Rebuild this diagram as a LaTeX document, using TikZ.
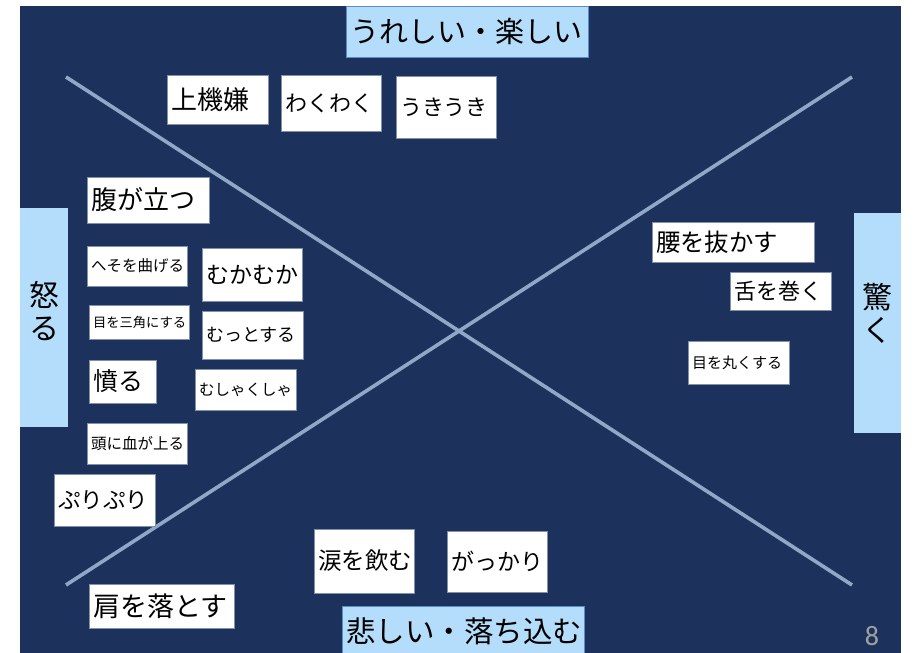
\documentclass[tikz,border=0pt]{standalone}
\usepackage{fontspec}
\setmainfont{Noto Sans CJK JP}
\newfontfamily\numfont{Carlito}
\definecolor{bgblue}{RGB}{28,50,92}
\definecolor{lightblue}{RGB}{180,221,251}
\definecolor{linecol}{RGB}{143,168,200}
\definecolor{boxedge}{RGB}{130,145,170}
\definecolor{bluedge}{RGB}{90,140,200}
\definecolor{numgrey}{RGB}{160,160,160}
\tikzset{
  wbox/.style={draw=boxedge, line width=0.7pt, fill=white, inner xsep=0pt, inner ysep=0pt, text=black, align=left},
  bbox/.style={draw=bluedge, line width=0.5pt, fill=lightblue, inner xsep=0pt, inner ysep=0pt, text=black, align=left},
  vtext/.style={font=\fontsize{30}{33}\selectfont, align=center, inner sep=0pt, text=black},
  xline/.style={draw=linecol, line width=3.6pt},
}
\newcommand\tb[8]{\node[#8, text width=#4pt, minimum height=#5pt, font=\fontsize{#6}{#6}\selectfont] (#1) at ({#2+#4/2},{#3+#5/2}) {\hspace*{4pt}#7};}
\begin{document}
\begin{tikzpicture}[x=1pt,y=-1pt]
\useasboundingbox (0,0) rectangle (916,653);
\fill[bgblue] (20,6) rectangle (901,653);
% diagonals
\coordinate (tl) at (66,77);
\coordinate (br) at (852,585);
\coordinate (bl) at (66,585);
\coordinate (tr) at (852,77);
\draw[xline] (tl) -- (br);
\draw[xline] (bl) -- (tr);
% category boxes
\tb{joy}{346}{6}{242}{51}{29}{うれしい・楽しい}{bbox}
\tb{sad}{342}{606}{242}{50}{29.5}{悲しい・落ち込む}{bbox}
\fill[lightblue] (20,208) rectangle (68,427);
\fill[lightblue] (854,213) rectangle (901,433);
\node[vtext] (anger) at (44,311) {怒\\る};
\node[vtext] (surp) at (877.5,313) {驚\\く};
% word boxes
\tb{a1}{167}{75}{101}{49}{26}{上機嫌}{wbox}
\tb{a2}{281}{75}{100}{56}{22}{わくわく}{wbox}
\tb{a3}{396}{76}{100}{62}{22}{うきうき}{wbox}
\tb{b1}{87}{177}{122}{46}{26}{腹が立つ}{wbox}
\tb{b2}{87}{246}{100}{40}{15.5}{へそを曲げる}{wbox}
\tb{b3}{202}{248}{100}{53}{23}{むかむか}{wbox}
\tb{b4}{89}{305}{100}{34}{13.3}{目を三角にする}{wbox}
\tb{b5}{202}{311}{101}{48}{18}{むっとする}{wbox}
\tb{b6}{89}{360}{67}{43}{25}{憤る}{wbox}
\tb{b7}{195}{369}{101}{41}{15.5}{むしゃくしゃ}{wbox}
\tb{b8}{87}{423}{100}{41}{15.5}{頭に血が上る}{wbox}
\tb{b9}{54}{474}{101}{52}{22.5}{ぷりぷり}{wbox}
\tb{c1}{652}{222}{162}{40}{24.4}{腰を抜かす}{wbox}
\tb{c2}{730}{272}{101}{38}{22}{舌を巻く}{wbox}
\tb{c3}{688}{341}{101}{43}{15}{目を丸くする}{wbox}
\tb{d1}{314}{529}{100}{64}{23.5}{涙を飲む}{wbox}
\tb{d2}{447}{531}{100}{61}{23}{がっかり}{wbox}
\tb{d3}{89}{584}{145}{44}{27}{肩を落とす}{wbox}
% page number
\node[text=numgrey, font=\numfont\fontsize{28}{28}\selectfont, inner sep=0pt] (pg) at (872,636) {8};
\end{tikzpicture}
\end{document}
